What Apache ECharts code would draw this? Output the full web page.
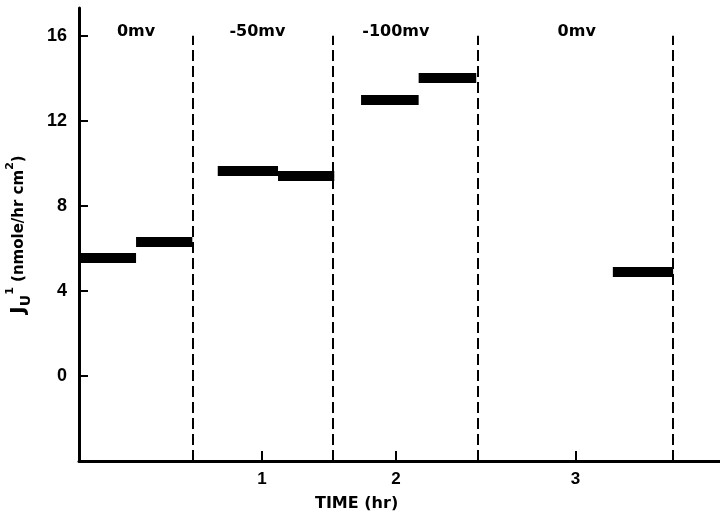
<!DOCTYPE html>
<html><head><meta charset="utf-8">
<script src="https://cdn.jsdelivr.net/npm/echarts@6/dist/echarts.min.js"></script>
<style>html,body{margin:0;padding:0;background:#fff}#c{width:720px;height:514px}</style>
</head><body><div id="c"></div>
<script>
// Horizontal flux segments (time in hr, value in nmole/hr cm2)
const segStart = [-0.36, 0.06, 0.67, 1.12, 1.74, 2.17, 3.62];
const segEnd   = [0.06, 0.48, 1.12, 1.54, 2.17, 2.60, 4.07];
const segValue = [5.55, 6.3, 9.67, 9.4, 13.0, 14.0, 4.9];
// Dashed dividers between clamp periods
const dividerTimes = [0.48, 1.53, 2.61, 4.07];
const dividerRange = [-4, 16];
// Period labels
const periodLabels = ['0mv', '-50mv', '-100mv', '0mv'];
const periodLabelTimes = [0.06, 0.966, 2.0, 3.35];
const periodLabelLevel = 16.2;
// Axis ticks
const yTicks = [0, 4, 8, 12, 16];
const xTickValues = [1, 2, 3.34];
const xTickLabels = ['1', '2', '3'];

const chart = echarts.init(document.getElementById('c'), null, {renderer: 'canvas'});
const font = 'DejaVu Sans';

const segData = segStart.map((s, i) => ({coords: [[s, segValue[i]], [segEnd[i], segValue[i]]]}));
const divData = dividerTimes.map(t => ({coords: [[t, dividerRange[0]], [t, dividerRange[1]]]}));
const labelData = periodLabelTimes.map((t, i) => ({value: [t, periodLabelLevel], name: periodLabels[i]}));

chart.setOption({
  animation: false,
  backgroundColor: '#fff',
  grid: {left: 79, right: 0, top: 8, bottom: 53, containLabel: false, outerBoundsMode: 'none'},
  xAxis: {
    type: 'value', min: -0.366, max: 4.42,
    axisLine: {onZero: false, lineStyle: {color: '#000', width: 3}},
    axisTick: {show: true, inside: true, length: 10, lineStyle: {color: '#000', width: 2}, customValues: xTickValues},
    axisLabel: {customValues: xTickValues, color: '#000', fontFamily: 'Liberation Sans', fontWeight: 'bold', fontSize: 17, margin: 10,
      formatter: v => { const i = xTickValues.indexOf(v); return i >= 0 ? xTickLabels[i] : ''; }},
    splitLine: {show: false}
  },
  yAxis: {
    type: 'value', min: -4, max: 17.3,
    axisLine: {show: true, onZero: false, lineStyle: {color: '#000', width: 3}},
    axisTick: {show: true, inside: true, length: 9, lineStyle: {color: '#000', width: 2}, customValues: yTicks},
    axisLabel: {customValues: yTicks, color: '#000', fontFamily: 'Liberation Sans', fontWeight: 'bold', fontSize: 18, margin: 12},
    splitLine: {show: false},
    name: '{j|J}{s|U}{sp|1} (nmole/hr cm{sp|2})',
    nameLocation: 'middle', nameRotate: 90, nameGap: 46,
    nameTextStyle: {color: '#000', fontFamily: font, fontWeight: 'bold', fontSize: 15, lineHeight: 28,
      rich: {
        j: {fontFamily: font, fontWeight: 'bold', fontSize: 20, color: '#000'},
        s: {fontFamily: font, fontWeight: 'bold', fontSize: 14, color: '#000', verticalAlign: 'bottom'},
        sp: {fontFamily: font, fontWeight: 'bold', fontSize: 11, color: '#000', verticalAlign: 'top'}
      }}
  },
  graphic: [{type: 'text', left: 315, top: 496, style: {text: 'TIME (hr)', fill: '#000', font: 'bold 16px "DejaVu Sans"'}}],
  series: [
    {type: 'lines', coordinateSystem: 'cartesian2d', polyline: false, silent: true,
      lineStyle: {color: '#000', width: 2, type: [11, 5], opacity: 1}, data: divData},
    {type: 'lines', coordinateSystem: 'cartesian2d', polyline: false, silent: true,
      lineStyle: {color: '#000', width: 10, opacity: 1, cap: 'butt'}, data: segData},
    {type: 'scatter', symbolSize: 0, silent: true, data: labelData, itemStyle: {color: '#000', opacity: 1},
      label: {show: true, position: 'inside', formatter: p => p.name, color: '#000', opacity: 1,
        textBorderWidth: 0, fontFamily: font, fontWeight: 'bold', fontSize: 16}}
  ]
});
</script></body></html>
